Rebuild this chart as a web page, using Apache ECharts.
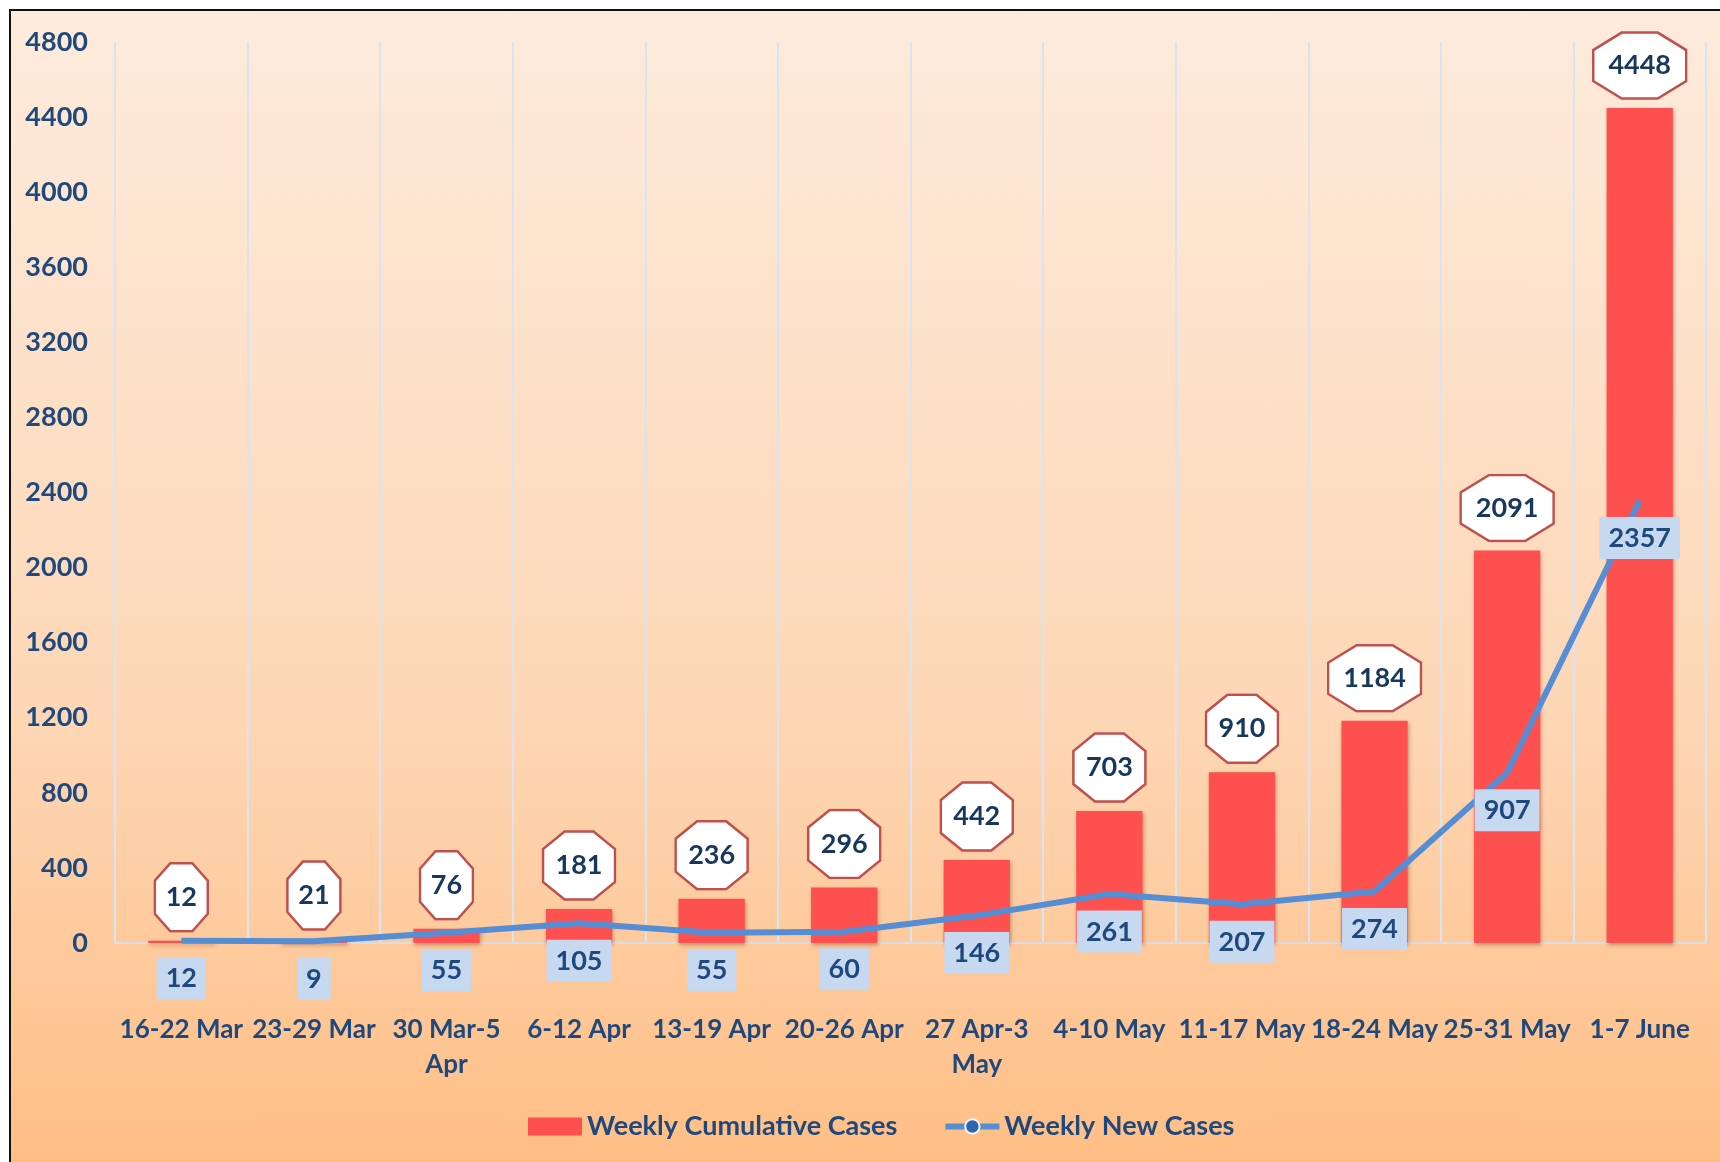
<!DOCTYPE html>
<html>
<head>
<meta charset="utf-8">
<title>Weekly Cases</title>
<script src="https://cdn.jsdelivr.net/npm/echarts@6/dist/echarts.min.js"></script>
<style>
    html,body{margin:0;padding:0;background:#fff;overflow:hidden;}
    #bg{position:absolute;left:9px;top:9px;width:1800px;height:1300px;
        border-top:2px solid #111;border-left:2px solid #111;
        background:linear-gradient(#FDEBDC 0px,#FDD7B6 700px,#FFBE85 1153px);}
    #main{position:absolute;left:0;top:0;width:1720px;height:1162px;}
</style>
</head>
<body>
<div id="bg"></div>
<div id="main"></div>
<script>
//数据
var weeks = ['16-22 Mar','23-29 Mar','30 Mar-5\nApr','6-12 Apr','13-19 Apr','20-26 Apr','27 Apr-3\nMay','4-10 May','11-17 May','18-24 May','25-31 May','1-7 June'];
var cumulativeCases = [12,21,76,181,236,296,442,703,910,1184,2091,4448];
var newCases = [12,9,55,105,55,60,146,261,207,274,907,2357];
var yTicks = {min:0,max:4800,step:400};

var navy = '#1F497D';
var font = 'Lato';

//八边形背景
function octagon(w,h){
    var cx = Math.round(w*0.31), cy = Math.round(h*0.27);
    var pts = [cx,1.5, w-cx,1.5, w-1.5,cy, w-1.5,h-cy, w-cx,h-1.5, cx,h-1.5, 1.5,h-cy, 1.5,cy].join(',');
    var svg = "<svg xmlns='http://www.w3.org/2000/svg' width='"+w+"' height='"+h+"'>"
        +"<polygon points='"+pts+"' fill='#ffffff' stroke='#C0504D' stroke-width='2.5'/></svg>";
    return 'data:image/svg+xml;charset=utf-8,'+encodeURIComponent(svg);
}
function octStyle(w,h){
    return {width:w,height:h,lineHeight:h,align:'center',
        backgroundColor:{image:octagon(w,h)},
        color:'#17375E',fontSize:27,fontWeight:'bold',fontFamily:font};
}

var myChart = echarts.init(document.getElementById('main'));
var option = {
    backgroundColor:'transparent',
    animation:false,
    grid:{left:115,right:14,top:42,bottom:219},
    legend:{
        left:523,top:1108,
        itemWidth:54,itemHeight:18,itemGap:45,
        textStyle:{color:navy,fontSize:27,fontWeight:'bold',fontFamily:font},
        data:[
            {name:'Weekly Cumulative Cases',icon:'rect'},
            {name:'Weekly New Cases',
             itemStyle:{color:'#2F66B0',borderColor:'#F4F6FA',borderWidth:2},
             lineStyle:{width:6,color:'#558ED5'}}
        ]
    },
    xAxis:{
        type:'category',
        data:weeks,
        axisLine:{show:true,lineStyle:{color:'#D9DEE6',width:2}},
        axisTick:{show:false},
        splitLine:{show:true,lineStyle:{color:'#D8E4F2',width:2}},
        axisLabel:{interval:0,margin:69,color:navy,fontSize:26,fontWeight:'bold',fontFamily:font,lineHeight:35}
    },
    yAxis:{
        type:'value',
        min:yTicks.min,max:yTicks.max,interval:yTicks.step,
        axisLine:{show:false},
        axisTick:{show:false},
        splitLine:{show:false},
        axisLabel:{margin:27,color:navy,fontSize:27,fontWeight:'bold',fontFamily:font,
            formatter:function(v){return String(v);}}
    },
    series:[
        {
            name:'Weekly Cumulative Cases',
            type:'bar',
            barWidth:'50%',
            data:cumulativeCases,
            itemStyle:{color:'#FF5050',shadowColor:'rgba(80,30,0,0.35)',shadowBlur:4,shadowOffsetX:1,shadowOffsetY:2},
            label:{
                show:true,position:'top',distance:8,
                formatter:function(p){
                    var n = String(p.value).length;
                    return '{o'+(n<3?2:n)+'|'+p.value+'}';
                },
                rich:{
                    o2:octStyle(56,71),
                    o3:octStyle(75,71),
                    o4:octStyle(96,69)
                }
            },
            z:2
        },
        {
            name:'Weekly New Cases',
            type:'line',
            data:newCases,
            symbol:'circle',
            symbolSize:1,
            lineStyle:{color:'#558ED5',width:6},
            itemStyle:{color:'#558ED5',borderWidth:0},
            label:{
                show:true,position:'bottom',distance:16,
                backgroundColor:'#C6D9F1',padding:[9,9,8,9],
                color:navy,fontSize:27,fontWeight:'bold',fontFamily:font,lineHeight:25
            },
            z:3
        }
    ]
};
myChart.setOption(option);
</script>
</body>
</html>
